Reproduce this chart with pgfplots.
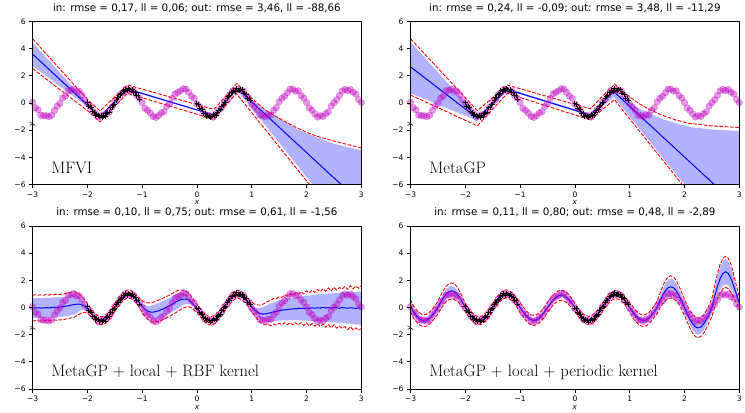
\documentclass[border=0pt]{standalone}
\usepackage{fontspec}
\usepackage{pgfplots}
\usepackage{pgfplotstable}
\pgfplotsset{compat=1.18}
\usepgfplotslibrary{fillbetween}
\newfontfamily\dejavu{DejaVu Sans}
\definecolor{mag}{rgb}{0.75,0,0.75}
\definecolor{bandblue}{rgb}{0.7,0.7,1}

\pgfplotstableread{
x y
-3.00 0.06
-2.95 -0.35
-2.90 -0.50
-2.85 -0.89
-2.80 -0.93
-2.75 -0.93
-2.70 -1.00
-2.65 -0.91
-2.60 -0.55
-2.55 -0.23
-2.50 -0.03
-2.45 0.36
-2.40 0.52
-2.35 0.91
-2.30 0.93
-2.25 1.03
-2.20 0.86
-2.15 0.87
-2.10 0.60
-2.05 0.25
-2.00 -0.05
-1.95 -0.24
-1.90 -0.61
-1.85 -0.77
-1.80 -1.04
-1.75 -0.95
-1.70 -0.87
-1.65 -0.84
-1.60 -0.66
-1.55 -0.29
-1.50 0.09
-1.45 0.25
-1.40 0.62
-1.35 0.77
-1.30 1.02
-1.25 0.92
-1.20 0.96
-1.15 0.87
-1.10 0.54
-1.05 0.35
-1.00 0.03
-0.95 -0.39
-0.90 -0.54
-0.85 -0.74
-0.80 -0.99
-0.75 -1.06
-0.70 -0.93
-0.65 -0.72
-0.60 -0.64
-0.55 -0.25
-0.50 -0.07
-0.45 0.35
-0.40 0.67
-0.35 0.78
-0.30 0.89
-0.25 1.05
-0.20 1.02
-0.15 0.79
-0.10 0.50
-0.05 0.34
0.00 -0.07
0.05 -0.27
0.10 -0.51
0.15 -0.86
0.20 -0.92
0.25 -0.94
0.30 -1.04
0.35 -0.79
0.40 -0.52
0.45 -0.35
0.50 0.05
0.55 0.23
0.60 0.60
0.65 0.90
0.70 0.89
0.75 1.02
0.80 0.92
0.85 0.89
0.90 0.54
0.95 0.37
1.00 -0.06
1.05 -0.30
1.10 -0.53
1.15 -0.90
1.20 -0.92
1.25 -1.02
1.30 -0.85
1.35 -0.88
1.40 -0.54
1.45 -0.34
1.50 0.08
1.55 0.35
1.60 0.49
1.65 0.76
1.70 1.02
1.75 1.02
1.80 0.87
1.85 0.90
1.90 0.55
1.95 0.37
2.00 0.04
2.05 -0.36
2.10 -0.53
2.15 -0.80
2.20 -1.03
2.25 -0.93
2.30 -0.99
2.35 -0.78
2.40 -0.65
2.45 -0.22
2.50 0.02
2.55 0.24
2.60 0.56
2.65 0.89
2.70 1.00
2.75 0.91
2.80 0.99
2.85 0.79
2.90 0.66
2.95 0.26
3.00 0.03
}\magdata

\pgfplotstableread{
x y
-2.000 0.05
-1.975 -0.24
-1.950 -0.28
-1.925 -0.35
-1.900 -0.65
-1.875 -0.69
-1.850 -0.90
-1.825 -0.82
-1.800 -0.91
-1.775 -1.02
-1.750 -0.92
-1.725 -1.04
-1.700 -0.94
-1.675 -0.99
-1.650 -0.75
-1.625 -0.68
-1.600 -0.66
-1.575 -0.36
-1.550 -0.33
-1.525 -0.11
-1.500 -0.08
-1.475 0.20
-1.450 0.38
-1.425 0.39
-1.400 0.61
-1.375 0.67
-1.350 0.90
-1.325 0.86
-1.300 1.01
-1.275 0.90
-1.250 1.05
-1.225 1.00
-1.200 0.88
-1.175 0.97
-1.150 0.79
-1.125 0.75
-1.100 0.53
-1.075 0.55
-1.050 0.26
0.000 -0.04
0.025 -0.09
0.050 -0.37
0.075 -0.43
0.100 -0.50
0.125 -0.76
0.150 -0.78
0.175 -0.97
0.200 -0.89
0.225 -0.98
0.250 -1.07
0.275 -0.95
0.300 -0.85
0.325 -0.92
0.350 -0.90
0.375 -0.66
0.400 -0.57
0.425 -0.51
0.450 -0.23
0.475 -0.18
0.500 0.03
0.525 0.06
0.550 0.37
0.575 0.49
0.600 0.54
0.625 0.78
0.650 0.80
0.675 0.94
0.700 0.87
0.725 1.08
0.750 0.96
0.775 0.93
0.800 0.98
0.825 0.97
0.850 0.74
0.875 0.73
0.900 0.64
0.925 0.36
0.950 0.37
0.975 0.20
}\traindata

\pgfplotstableread{
x m fu fl ru rl
-3.00 -0.05 0.68 -0.78 0.90 -1.00
-2.95 -0.03 0.70 -0.76 0.94 -0.96
-2.90 -0.02 0.71 -0.75 0.91 -0.99
-2.85 -0.04 0.69 -0.77 0.93 -0.97
-2.80 -0.03 0.70 -0.76 0.90 -1.00
-2.75 -0.01 0.72 -0.74 0.96 -0.94
-2.70 -0.03 0.70 -0.76 0.91 -0.99
-2.65 0.00 0.73 -0.73 0.97 -0.96
-2.60 0.02 0.75 -0.71 0.95 -0.91
-2.55 0.01 0.74 -0.72 0.98 -0.95
-2.50 0.03 0.76 -0.70 0.96 -0.90
-2.45 0.05 0.78 -0.68 1.01 -0.92
-2.40 0.08 0.81 -0.65 1.02 -0.85
-2.35 0.12 0.85 -0.61 1.08 -0.84
-2.30 0.17 0.90 -0.56 1.11 -0.76
-2.25 0.21 0.94 -0.52 1.17 -0.75
-2.20 0.24 0.89 -0.41 1.11 -0.63
-2.15 0.25 0.77 -0.27 0.99 -0.49
-2.10 0.20 0.58 -0.18 0.80 -0.40
-2.05 0.10 0.34 -0.14 0.56 -0.36
-2.00 -0.06 0.08 -0.20 0.30 -0.42
-1.95 -0.28 -0.20 -0.36 0.02 -0.58
-1.90 -0.55 -0.47 -0.63 -0.25 -0.85
-1.85 -0.77 -0.69 -0.85 -0.47 -1.07
-1.80 -0.92 -0.84 -1.00 -0.62 -1.22
-1.75 -0.97 -0.89 -1.05 -0.67 -1.27
-1.70 -0.93 -0.85 -1.01 -0.63 -1.23
-1.65 -0.80 -0.72 -0.88 -0.50 -1.10
-1.60 -0.59 -0.51 -0.67 -0.29 -0.89
-1.55 -0.32 -0.24 -0.40 -0.02 -0.62
-1.50 -0.02 0.06 -0.10 0.28 -0.32
-1.45 0.29 0.37 0.21 0.59 -0.01
-1.40 0.57 0.65 0.49 0.87 0.27
-1.35 0.80 0.88 0.72 1.10 0.50
-1.30 0.95 1.03 0.87 1.25 0.65
-1.25 1.00 1.08 0.92 1.30 0.70
-1.20 0.95 1.03 0.87 1.25 0.65
-1.15 0.81 0.89 0.73 1.11 0.51
-1.10 0.60 0.68 0.52 0.90 0.30
-1.05 0.34 0.46 0.22 0.68 0.00
-1.00 0.08 0.28 -0.12 0.50 -0.34
-0.95 -0.12 0.18 -0.42 0.40 -0.64
-0.90 -0.26 0.12 -0.64 0.34 -0.86
-0.85 -0.33 0.12 -0.78 0.34 -1.00
-0.80 -0.34 0.16 -0.84 0.38 -1.06
-0.75 -0.30 0.24 -0.84 0.46 -1.06
-0.70 -0.24 0.32 -0.80 0.54 -1.02
-0.65 -0.16 0.41 -0.73 0.63 -0.95
-0.60 -0.07 0.50 -0.64 0.72 -0.86
-0.55 0.03 0.60 -0.54 0.82 -0.76
-0.50 0.13 0.70 -0.44 0.92 -0.66
-0.45 0.25 0.82 -0.32 1.04 -0.54
-0.40 0.37 0.94 -0.20 1.16 -0.42
-0.35 0.48 1.03 -0.07 1.25 -0.29
-0.30 0.57 1.07 0.07 1.29 -0.15
-0.25 0.62 1.06 0.18 1.28 -0.04
-0.20 0.62 0.98 0.26 1.20 0.04
-0.15 0.55 0.82 0.28 1.04 0.06
-0.10 0.38 0.57 0.19 0.79 -0.03
-0.05 0.15 0.27 0.03 0.49 -0.19
0.00 -0.07 0.01 -0.15 0.23 -0.37
0.05 -0.32 -0.24 -0.40 -0.02 -0.62
0.10 -0.58 -0.50 -0.66 -0.28 -0.88
0.15 -0.79 -0.71 -0.87 -0.49 -1.09
0.20 -0.93 -0.85 -1.01 -0.63 -1.23
0.25 -0.97 -0.89 -1.05 -0.67 -1.27
0.30 -0.92 -0.84 -1.00 -0.62 -1.22
0.35 -0.79 -0.71 -0.87 -0.49 -1.09
0.40 -0.58 -0.50 -0.66 -0.28 -0.88
0.45 -0.31 -0.23 -0.39 -0.01 -0.61
0.50 -0.02 0.06 -0.10 0.28 -0.32
0.55 0.29 0.37 0.21 0.59 -0.01
0.60 0.57 0.65 0.49 0.87 0.27
0.65 0.79 0.87 0.71 1.09 0.49
0.70 0.93 1.01 0.85 1.23 0.63
0.75 0.97 1.05 0.89 1.27 0.67
0.80 0.91 0.99 0.83 1.21 0.61
0.85 0.76 0.84 0.68 1.06 0.46
0.90 0.55 0.63 0.47 0.85 0.25
0.95 0.30 0.38 0.22 0.60 0.00
1.00 0.05 0.17 -0.07 0.39 -0.29
1.05 -0.17 0.03 -0.37 0.25 -0.59
1.10 -0.33 -0.03 -0.63 0.19 -0.85
1.15 -0.44 -0.04 -0.84 0.18 -1.06
1.20 -0.48 0.02 -0.98 0.24 -1.20
1.25 -0.47 0.11 -1.05 0.33 -1.27
1.30 -0.42 0.22 -1.06 0.47 -1.25
1.35 -0.37 0.31 -1.05 0.52 -1.33
1.40 -0.32 0.38 -1.02 0.68 -1.22
1.45 -0.28 0.44 -1.00 0.66 -1.30
1.50 -0.23 0.50 -0.96 0.80 -1.16
1.55 -0.20 0.55 -0.95 0.74 -1.26
1.60 -0.17 0.60 -0.94 0.93 -1.12
1.65 -0.15 0.64 -0.94 0.83 -1.27
1.70 -0.12 0.69 -0.93 1.02 -1.10
1.75 -0.10 0.73 -0.93 0.91 -1.28
1.80 -0.09 0.76 -0.94 1.09 -1.12
1.85 -0.07 0.80 -0.94 0.97 -1.29
1.90 -0.06 0.83 -0.95 1.16 -1.11
1.95 -0.07 0.83 -0.97 1.00 -1.32
2.00 -0.04 0.88 -0.96 1.22 -1.14
2.05 -0.06 0.88 -1.00 1.06 -1.36
2.10 -0.03 0.92 -0.98 1.28 -1.17
2.15 -0.05 0.92 -1.02 1.10 -1.38
2.20 -0.02 0.96 -1.00 1.33 -1.19
2.25 -0.04 0.96 -1.04 1.15 -1.41
2.30 0.00 1.01 -1.01 1.39 -1.21
2.35 -0.03 1.00 -1.06 1.20 -1.45
2.40 -0.01 1.03 -1.05 1.44 -1.26
2.45 -0.05 1.01 -1.11 1.22 -1.50
2.50 0.02 1.09 -1.05 1.50 -1.27
2.55 -0.02 1.07 -1.11 1.28 -1.52
2.60 -0.06 1.04 -1.16 1.47 -1.38
2.65 0.01 1.13 -1.11 1.35 -1.53
2.70 -0.03 1.10 -1.16 1.55 -1.40
2.75 -0.05 1.10 -1.20 1.33 -1.62
2.80 -0.02 1.14 -1.18 1.60 -1.42
2.85 -0.04 1.14 -1.22 1.38 -1.64
2.90 -0.07 1.12 -1.26 1.58 -1.50
2.95 -0.03 1.18 -1.24 1.42 -1.67
3.00 -0.06 1.16 -1.28 1.60 -1.55
}\pthree

\pgfplotstableread{
x m fu fl ru rl
-3.00 0.15 0.37 -0.07 0.59 -0.29
-2.95 -0.30 -0.08 -0.52 0.14 -0.74
-2.90 -0.57 -0.35 -0.79 -0.13 -1.01
-2.85 -0.78 -0.56 -1.00 -0.34 -1.22
-2.80 -0.92 -0.70 -1.14 -0.48 -1.36
-2.75 -0.97 -0.75 -1.19 -0.53 -1.41
-2.70 -0.92 -0.70 -1.14 -0.48 -1.36
-2.65 -0.78 -0.56 -1.00 -0.34 -1.22
-2.60 -0.57 -0.35 -0.79 -0.13 -1.01
-2.55 -0.30 -0.08 -0.52 0.14 -0.74
-2.50 0.00 0.25 -0.25 0.47 -0.47
-2.45 0.38 0.66 0.10 0.88 -0.12
-2.40 0.72 1.04 0.40 1.26 0.18
-2.35 0.99 1.34 0.64 1.56 0.42
-2.30 1.16 1.53 0.79 1.75 0.57
-2.25 1.22 1.59 0.85 1.81 0.63
-2.20 1.16 1.51 0.81 1.73 0.59
-2.15 0.99 1.29 0.69 1.51 0.47
-2.10 0.72 0.94 0.50 1.16 0.28
-2.05 0.38 0.53 0.23 0.75 0.01
-2.00 0.00 0.08 -0.08 0.30 -0.30
-1.95 -0.30 -0.22 -0.38 0.00 -0.60
-1.90 -0.57 -0.49 -0.65 -0.27 -0.87
-1.85 -0.78 -0.70 -0.86 -0.48 -1.08
-1.80 -0.92 -0.84 -1.00 -0.62 -1.22
-1.75 -0.97 -0.89 -1.05 -0.67 -1.27
-1.70 -0.92 -0.84 -1.00 -0.62 -1.22
-1.65 -0.78 -0.70 -0.86 -0.48 -1.08
-1.60 -0.57 -0.49 -0.65 -0.27 -0.87
-1.55 -0.30 -0.22 -0.38 0.00 -0.60
-1.50 0.00 0.08 -0.08 0.30 -0.30
-1.45 0.31 0.39 0.23 0.61 0.01
-1.40 0.59 0.67 0.51 0.89 0.29
-1.35 0.81 0.89 0.73 1.11 0.51
-1.30 0.95 1.03 0.87 1.25 0.65
-1.25 1.00 1.08 0.92 1.30 0.70
-1.20 0.95 1.03 0.87 1.25 0.65
-1.15 0.81 0.89 0.73 1.11 0.51
-1.10 0.59 0.67 0.51 0.89 0.29
-1.05 0.31 0.41 0.21 0.63 -0.01
-1.00 0.00 0.15 -0.15 0.37 -0.37
-0.95 -0.29 -0.14 -0.44 0.08 -0.66
-0.90 -0.56 -0.41 -0.71 -0.19 -0.93
-0.85 -0.77 -0.62 -0.92 -0.40 -1.14
-0.80 -0.90 -0.75 -1.05 -0.53 -1.27
-0.75 -0.95 -0.80 -1.10 -0.58 -1.32
-0.70 -0.90 -0.75 -1.05 -0.53 -1.27
-0.65 -0.77 -0.62 -0.92 -0.40 -1.14
-0.60 -0.56 -0.41 -0.71 -0.19 -0.93
-0.55 -0.29 -0.14 -0.44 0.08 -0.66
-0.50 0.00 0.15 -0.15 0.37 -0.37
-0.45 0.28 0.43 0.13 0.65 -0.09
-0.40 0.53 0.68 0.38 0.90 0.16
-0.35 0.73 0.88 0.58 1.10 0.36
-0.30 0.86 1.01 0.71 1.23 0.49
-0.25 0.90 1.05 0.75 1.27 0.53
-0.20 0.86 1.01 0.71 1.23 0.49
-0.15 0.73 0.88 0.58 1.10 0.36
-0.10 0.53 0.68 0.38 0.90 0.16
-0.05 0.28 0.38 0.18 0.60 -0.04
0.00 0.00 0.08 -0.08 0.30 -0.30
0.05 -0.29 -0.21 -0.37 0.01 -0.59
0.10 -0.56 -0.48 -0.64 -0.26 -0.86
0.15 -0.77 -0.69 -0.85 -0.47 -1.07
0.20 -0.90 -0.82 -0.98 -0.60 -1.20
0.25 -0.95 -0.87 -1.03 -0.65 -1.25
0.30 -0.90 -0.82 -0.98 -0.60 -1.20
0.35 -0.77 -0.69 -0.85 -0.47 -1.07
0.40 -0.56 -0.48 -0.64 -0.26 -0.86
0.45 -0.29 -0.21 -0.37 0.01 -0.59
0.50 0.00 0.08 -0.08 0.30 -0.30
0.55 0.29 0.37 0.21 0.59 -0.01
0.60 0.56 0.64 0.48 0.86 0.26
0.65 0.77 0.85 0.69 1.07 0.47
0.70 0.90 0.98 0.82 1.20 0.60
0.75 0.95 1.03 0.87 1.25 0.65
0.80 0.90 0.98 0.82 1.20 0.60
0.85 0.77 0.85 0.69 1.07 0.47
0.90 0.56 0.64 0.48 0.86 0.26
0.95 0.29 0.37 0.21 0.59 -0.01
1.00 0.00 0.10 -0.10 0.32 -0.32
1.05 -0.30 -0.10 -0.50 0.12 -0.72
1.10 -0.57 -0.37 -0.77 -0.15 -0.99
1.15 -0.78 -0.58 -0.98 -0.36 -1.20
1.20 -0.92 -0.72 -1.12 -0.50 -1.34
1.25 -0.97 -0.77 -1.17 -0.55 -1.39
1.30 -0.92 -0.72 -1.12 -0.50 -1.34
1.35 -0.78 -0.58 -0.98 -0.36 -1.20
1.40 -0.57 -0.37 -0.77 -0.15 -0.99
1.45 -0.30 -0.10 -0.50 0.12 -0.72
1.50 0.00 0.25 -0.25 0.47 -0.47
1.55 0.47 0.77 0.17 0.99 -0.05
1.60 0.89 1.31 0.47 1.53 0.25
1.65 1.23 1.75 0.71 1.97 0.49
1.70 1.45 2.03 0.87 2.25 0.65
1.75 1.52 2.12 0.92 2.34 0.70
1.80 1.45 2.03 0.87 2.25 0.65
1.85 1.23 1.75 0.71 1.97 0.49
1.90 0.89 1.34 0.44 1.56 0.22
1.95 0.47 0.87 0.07 1.09 -0.15
2.00 0.00 0.38 -0.38 0.60 -0.60
2.05 -0.46 -0.08 -0.84 0.14 -1.06
2.10 -0.88 -0.46 -1.30 -0.24 -1.52
2.15 -1.21 -0.75 -1.67 -0.53 -1.89
2.20 -1.43 -0.93 -1.93 -0.71 -2.15
2.25 -1.50 -1.00 -2.00 -0.78 -2.22
2.30 -1.43 -0.95 -1.91 -0.73 -2.13
2.35 -1.21 -0.76 -1.66 -0.54 -1.88
2.40 -0.88 -0.46 -1.30 -0.24 -1.52
2.45 -0.46 -0.06 -0.86 0.16 -1.08
2.50 0.00 0.45 -0.45 0.67 -0.67
2.55 0.81 1.36 0.26 1.58 0.04
2.60 1.55 2.25 0.85 2.47 0.63
2.65 2.13 2.95 1.31 3.17 1.09
2.70 2.50 3.40 1.60 3.62 1.38
2.75 2.63 3.55 1.71 3.77 1.49
2.80 2.50 3.40 1.60 3.62 1.38
2.85 2.13 2.93 1.33 3.15 1.11
2.90 1.55 2.15 0.95 2.37 0.73
2.95 0.95 1.35 0.55 1.57 0.33
3.00 0.30 0.55 0.05 0.77 -0.17
}\pfour

\tikzset{lab/.style={anchor=base west, font=\fontsize{16.7}{20}\selectfont}}

\pgfplotsset{
  panel/.style={
    anchor=north west,
    width=330.6bp, height=164bp, scale only axis,
    xmin=-3, xmax=3, ymin=-6, ymax=6,
    xtick={-3,-2,-1,0,1,2,3}, ytick={-6,-4,-2,0,2,4,6},
    xticklabels={−3,−2,−1,0,1,2,3},
    yticklabels={−6,−4,−2,0,2,4,6},
    tick align=outside, tick pos=left,
    major tick length=3.5bp,
    every tick/.style={black, line width=0.8bp},
    axis line style={line width=0.8bp},
    ticklabel style={font=\dejavu\fontsize{7.6}{9}\selectfont},
    xlabel={x}, ylabel={y},
    every axis x label/.style={at={(axis description cs:0.5,0)}, anchor=center, yshift=-18.5bp, font=\dejavu\itshape\fontsize{7.4}{9}\selectfont},
    every axis y label/.style={at={(axis description cs:0,0.5)}, anchor=center, rotate=90, xshift=-21bp, font=\dejavu\itshape\fontsize{7.4}{9}\selectfont},
    title style={font=\dejavu\fontsize{10.4}{12}\selectfont, at={(0.5,1)}, anchor=base, yshift=4.4bp},
    axis on top,
    clip=true,
  },
  edge/.style={draw=none, forget plot},
  band/.style={fill=bandblue, draw=none},
  magpts/.style={only marks, mark=*, mark size=3.3bp, color=mag, mark options={fill opacity=0.4, draw opacity=0.4}},
  meanl/.style={blue, line width=1bp},
  redd/.style={red, line width=0.9bp, dash pattern=on 3.7bp off 1.6bp},
  trainpts/.style={only marks, mark=+, mark size=2.4bp, black, line width=0.9bp},
}

\begin{document}
\begin{tikzpicture}
\path (0,0) rectangle (745bp,-407bp);

% Panel 1: MFVI
\begin{axis}[panel, at={(32.7bp,-17.7bp)}, title={in: rmse = 0,17, ll = 0,06; out: rmse = 3,46, ll = -88,66}]
\addplot[edge, name path=fu] coordinates {(-3,4.45) (-2.5,2.22) (-2,0.00) (-1.77,-0.93) (-1.27,1.08) (0.31,-0.82) (0.735,1.12) (1.0,0.22) (1.25,-0.51) (1.5,-1.12) (1.855,-1.98) (2.2,-2.55) (2.46,-2.95) (2.75,-3.25) (3,-3.47)};
\addplot[edge, name path=fl] coordinates {(-3,2.74) (-2.5,1.24) (-2,-0.26) (-1.77,-1.07) (-1.27,0.97) (0.31,-0.94) (0.735,0.95) (1.0,-0.39) (1.5,-2.91) (2.1,-5.94) (3,-10.5)};
\addplot[band] fill between[of=fu and fl];
\addplot[magpts] table[x=x, y=y] {\magdata};
\addplot[meanl] coordinates {(-3,3.60) (-1.77,-1.00) (-1.27,1.03) (0.31,-0.88) (0.735,1.07) (3,-7.37)};
\addplot[redd] coordinates {(-3,4.73) (-2.5,2.49) (-2,0.27) (-1.77,-0.58) (-1.27,1.33) (0.31,-0.47) (0.73,1.44) (0.85,0.93) (1.0,0.34) (1.25,-0.52) (1.55,-1.24) (1.8,-1.78) (2.04,-2.22) (2.25,-2.52) (2.46,-2.75) (2.75,-3.06) (3,-3.31)};
\addplot[redd] coordinates {(-3,2.54) (-2.5,0.99) (-2,-0.55) (-1.77,-1.38) (-1.27,0.71) (0.31,-1.20) (0.72,0.70) (2.04,-5.93) (3,-10.75)};
\addplot[trainpts] table[x=x, y=y] {\traindata};
\node[lab] at (axis cs:-2.72,-5.22) {MFVI};
\end{axis}

% Panel 2: MetaGP
\begin{axis}[panel, at={(412.7bp,-17.7bp)}, title={in: rmse = 0,24, ll = -0,09; out: rmse = 3,48, ll = -11,29}]
\addplot[edge, name path=fu] coordinates {(-3,4.49) (-1.78,-0.95) (-1.233,1.08) (0.28,-0.80) (0.706,0.95) (0.9,0.38) (1.16,-0.39) (1.4,-0.85) (1.64,-1.24) (1.9,-1.55) (2.13,-1.78) (2.5,-1.95) (3,-2.05)};
\addplot[edge, name path=fl] coordinates {(-3,0.72) (-1.78,-1.30) (-1.233,0.93) (0.28,-0.96) (0.706,0.45) (2.0,-6.0) (3,-11)};
\addplot[band] fill between[of=fu and fl];
\addplot[magpts] table[x=x, y=y] {\magdata};
\addplot[meanl] coordinates {(-3,2.66) (-1.78,-1.12) (-1.233,1.0) (0.28,-0.88) (0.706,0.85) (3,-7.7)};
\addplot[redd] coordinates {(-3,4.73) (-1.78,-0.56) (-1.233,1.32) (0.28,-0.42) (0.724,1.39) (0.95,0.6) (1.16,-0.02) (1.35,-0.45) (1.58,-0.88) (1.82,-1.22) (2.07,-1.49) (2.49,-1.68) (3,-1.80)};
\addplot[redd] coordinates {(-3,0.59) (-1.78,-1.68) (-1.233,0.71) (0.28,-1.24) (0.72,0.25) (1.95,-5.95) (3,-11.25)};
\addplot[trainpts] table[x=x, y=y] {\traindata};
\node[lab] at (axis cs:-2.72,-5.22) {MetaGP};
\end{axis}

% Panel 3: MetaGP + local + RBF kernel
\begin{axis}[panel, at={(32.7bp,-223.3bp)}, title={in: rmse = 0,10, ll = 0,75; out: rmse = 0,61, ll = -1,56}]
\addplot[edge, name path=fu] table[x=x, y=fu] {\pthree};
\addplot[edge, name path=fl] table[x=x, y=fl] {\pthree};
\addplot[band] fill between[of=fu and fl];
\addplot[magpts] table[x=x, y=y] {\magdata};
\addplot[meanl] table[x=x, y=m] {\pthree};
\addplot[redd] table[x=x, y=ru] {\pthree};
\addplot[redd] table[x=x, y=rl] {\pthree};
\addplot[trainpts] table[x=x, y=y] {\traindata};
\node[lab] at (axis cs:-2.72,-5.1) {MetaGP + local + RBF kernel};
\end{axis}

% Panel 4: MetaGP + local + periodic kernel
\begin{axis}[panel, at={(412.7bp,-223.3bp)}, title={in: rmse = 0,11, ll = 0,80; out: rmse = 0,48, ll = -2,89}]
\addplot[edge, name path=fu] table[x=x, y=fu] {\pfour};
\addplot[edge, name path=fl] table[x=x, y=fl] {\pfour};
\addplot[band] fill between[of=fu and fl];
\addplot[magpts] table[x=x, y=y] {\magdata};
\addplot[meanl] table[x=x, y=m] {\pfour};
\addplot[redd] table[x=x, y=ru] {\pfour};
\addplot[redd] table[x=x, y=rl] {\pfour};
\addplot[trainpts] table[x=x, y=y] {\traindata};
\node[lab] at (axis cs:-2.72,-5.1) {MetaGP + local + periodic kernel};
\end{axis}
\end{tikzpicture}
\end{document}
